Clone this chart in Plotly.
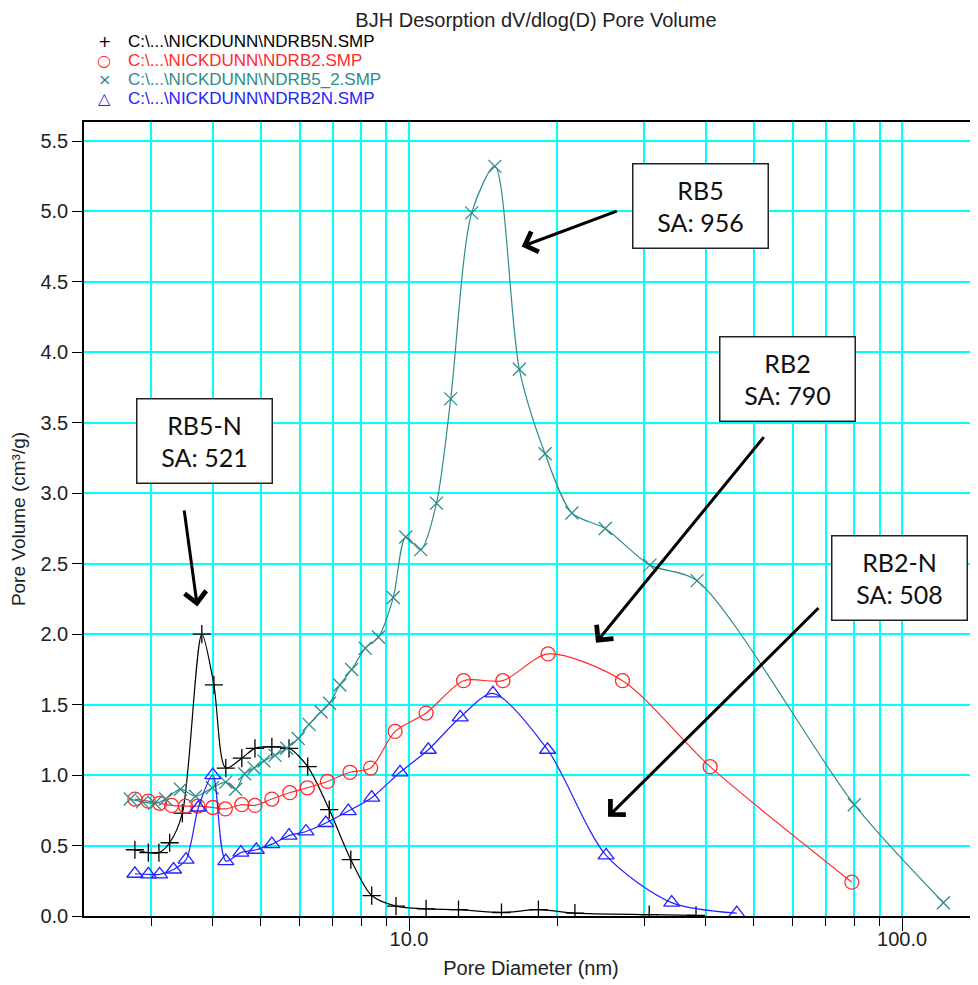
import plotly.graph_objects as go

# ---------------- data ----------------
rb5n_d = [2.78, 2.96, 3.11, 3.27, 3.47, 3.80, 4.02, 4.25, 4.58, 4.87, 5.27, 5.71,
          6.23, 6.89, 7.62, 8.40, 9.41, 10.83, 12.6, 15.4, 18.3, 21.7, 30.7, 38.2]
rb5n_v = [0.47, 0.45, 0.45, 0.52, 0.73, 2.00, 1.64, 1.05, 1.12, 1.19, 1.20, 1.19,
          1.06, 0.755, 0.40, 0.145, 0.07, 0.05, 0.045, 0.025, 0.045, 0.02, 0.01, 0.005]

rb2_d = [2.78, 2.96, 3.12, 3.30, 3.52, 3.73, 4.00, 4.24, 4.58, 4.87, 5.27, 5.73,
         6.22, 6.83, 7.59, 8.36, 9.37, 10.83, 12.9, 15.5, 19.15, 27.1, 40.8, 79.1]
rb2_v = [0.83, 0.815, 0.80, 0.785, 0.78, 0.78, 0.77, 0.76, 0.79, 0.785, 0.83, 0.875,
         0.91, 0.955, 1.02, 1.05, 1.31, 1.44, 1.67, 1.67, 1.86, 1.67, 1.06, 0.24]

rb5_d = [2.72, 2.88, 3.05, 3.21, 3.44, 3.69, 3.99, 4.25, 4.45, 4.64, 4.85, 5.08,
         5.35, 5.65, 5.96, 6.27, 6.63, 6.90, 7.24, 7.65, 8.15, 8.67, 9.29, 9.85,
         10.56, 11.37, 12.15, 13.40, 14.93, 16.74, 18.88, 21.4, 25.0, 30.8, 38.4,
         80.0, 121.3]
rb5_v = [0.83, 0.81, 0.80, 0.83, 0.90, 0.85, 0.91, 0.95, 0.90, 1.01, 1.05, 1.10,
         1.14, 1.19, 1.26, 1.36, 1.45, 1.51, 1.64, 1.75, 1.90, 1.98, 2.26, 2.69,
         2.60, 2.93, 3.67, 4.99, 5.32, 3.88, 3.28, 2.86, 2.75, 2.49, 2.38,
         0.79, 0.094]

rb2n_d = [2.78, 2.96, 3.12, 3.33, 3.53, 3.74, 4.00, 4.25, 4.56, 4.90, 5.27, 5.71,
          6.18, 6.78, 7.53, 8.40, 9.59, 10.94, 12.7, 14.8, 19.1, 25.1, 34.1, 46.2]
rb2n_v = [0.30, 0.295, 0.295, 0.33, 0.40, 0.77, 1.00, 0.39, 0.45, 0.47, 0.51, 0.57,
          0.60, 0.66, 0.745, 0.84, 1.02, 1.18, 1.41, 1.58, 1.18, 0.43, 0.095, 0.02]

series_names = [r"C:\...\NICKDUNN\NDRB5N.SMP", r"C:\...\NICKDUNN\NDRB2.SMP",
                r"C:\...\NICKDUNN\NDRB5_2.SMP", r"C:\...\NICKDUNN\NDRB2N.SMP"]
legend_glyphs = ["+", "○", "×", "△"]

y_ticks = [0.0, 0.5, 1.0, 1.5, 2.0, 2.5, 3.0, 3.5, 4.0, 4.5, 5.0, 5.5]
x_major = [10, 100]
x_major_text = ["10.0", "100.0"]
x_minor = [3, 4, 5, 6, 7, 8, 9, 20, 30, 40, 50, 60, 70, 80, 90]

labels = ["RB5<br>SA: 956", "RB2<br>SA: 790", "RB5-N<br>SA: 521", "RB2-N<br>SA: 508"]

# ---------------- styling ----------------
BLACK = "#000000"
RED = "#FF2A2A"
TEAL = "#2F8C8C"
BLUE = "#2222FF"
CYAN = "#00FFFF"
FONT = "Liberation Sans, Arial, sans-serif"

# the page adds an 8 px body margin, so the figure is drawn 8 px in and down
OFF = 8
W, H = 978 - OFF, 985 - OFF
ML, MR, MT = 84 - OFF, 0, 122 - OFF
MB = H - (916.5 - OFF)
PW, PH = W - ML - MR, H - MT - MB


def px_to_paper(px, py):
    """screen pixel (as in the reference) -> paper coordinates"""
    return (px - OFF - ML) / PW, (H - MB - (py - OFF)) / PH


fig = go.Figure()

specs = [
    (rb5n_d, rb5n_v, BLACK, "cross-thin", 13),
    (rb2_d, rb2_v, RED, "circle-open", 14),
    (rb5_d, rb5_v, TEAL, "x-thin", 13),
    (rb2n_d, rb2n_v, BLUE, "triangle-up-open", 14),
]

for (d, v, c, sym, sz), name in zip(specs, series_names):
    fig.add_trace(go.Scatter(
        x=d, y=v, mode="lines+markers", showlegend=False,
        line=dict(color=c, width=1.2, shape="spline", smoothing=0.8),
        marker=dict(symbol=sym, size=sz, color=c, line=dict(color=c, width=1.3)),
        name=name,
    ))

# legend rows (symbol + coloured file name), placed like the reference
legend_rows_y = [41, 60, 79, 98]
for (d, v, c, sym, sz), name, g, ry in zip(specs, series_names, legend_glyphs, legend_rows_y):
    gx, gy = px_to_paper(104, ry)
    fig.add_annotation(x=gx, y=gy, xref="paper", yref="paper", text=g, showarrow=False,
                       xanchor="center", yanchor="middle",
                       font=dict(family="DejaVu Sans, sans-serif", size=16, color=c))
    tx, ty = px_to_paper(126, ry)
    fig.add_annotation(x=tx, y=ty, xref="paper", yref="paper", text=name, showarrow=False,
                       xanchor="left", yanchor="middle",
                       font=dict(family=FONT, size=17, color=c))

# boxes with labels
box_centres = [(700.7, 205.7), (787.7, 379.3), (204.2, 441.7), (899.5, 578.5)]
for (cx, cy), txt in zip(box_centres, labels):
    xp, yp = px_to_paper(cx, cy)
    fig.add_annotation(
        x=xp, y=yp, xref="paper", yref="paper", text=txt, showarrow=False,
        xanchor="center", yanchor="middle", align="center",
        font=dict(family="Lato, Open Sans, sans-serif", size=25, color="#111111"),
        bgcolor="white", bordercolor="#222222", borderwidth=1.5, borderpad=0,
        width=134, height=83,
    )

# arrows (tail -> tip in pixels)
arrows = [((618.3, 210.7), (521.7, 246.7)),
          ((765.0, 436.0), (596.0, 643.0)),
          ((184.0, 509.3), (197.3, 606.7)),
          ((820.0, 607.0), (608.0, 817.3))]
for (tx, ty), (hx, hy) in arrows:
    xp, yp = px_to_paper(hx, hy)
    fig.add_annotation(
        x=xp, y=yp, xref="paper", yref="paper", text="", showarrow=True,
        ax=tx - hx, ay=ty - hy, axref="pixel", ayref="pixel",
        arrowhead=4, arrowsize=1.4, arrowwidth=3, arrowcolor="black", standoff=0,
    )

fig.update_layout(
    width=W, height=H,
    margin=dict(l=ML, r=MR, t=MT, b=MB, pad=0, autoexpand=False),
    paper_bgcolor="white", plot_bgcolor="white", showlegend=False,
    font=dict(family=FONT, size=20, color="#222222"),
    title=dict(text="BJH Desorption dV/dlog(D) Pore Volume", x=px_to_paper(536, 0)[0],
               xref="paper", xanchor="center", y=1 - (20 - OFF) / H, yanchor="middle",
               font=dict(family=FONT, size=20, color="#222222")),
    xaxis=dict(
        type="log", range=[0.3408, 2.154], automargin=False,
        tickvals=x_major, ticktext=x_major_text, ticks="outside", ticklen=13,
        tickcolor="black", tickwidth=1.2, ticklabelstandoff=-9,
        showgrid=True, gridcolor=CYAN, gridwidth=2,
        minor=dict(tickvals=x_minor, ticks="outside", ticklen=8, tickcolor="black",
                   showgrid=True, gridcolor=CYAN, gridwidth=2),
        showline=True, linecolor="black", linewidth=1.5, mirror=True,
        zeroline=False,
        title=dict(text="Pore Diameter (nm)", standoff=12, font=dict(size=20)),
        tickfont=dict(size=20),
    ),
    yaxis=dict(
        range=[0, 5.635], tickvals=y_ticks, tickformat=".1f", automargin=False,
        ticks="outside", ticklen=10, tickcolor="black", tickwidth=1.2,
        showgrid=True, gridcolor=CYAN, gridwidth=2,
        showline=True, linecolor="black", linewidth=1.5, mirror=False,
        zeroline=False,
        title=dict(text="Pore Volume (cm³/g)", standoff=10, font=dict(size=19)),
        tickfont=dict(size=20),
    ),
)

fig.write_html("out.html")
